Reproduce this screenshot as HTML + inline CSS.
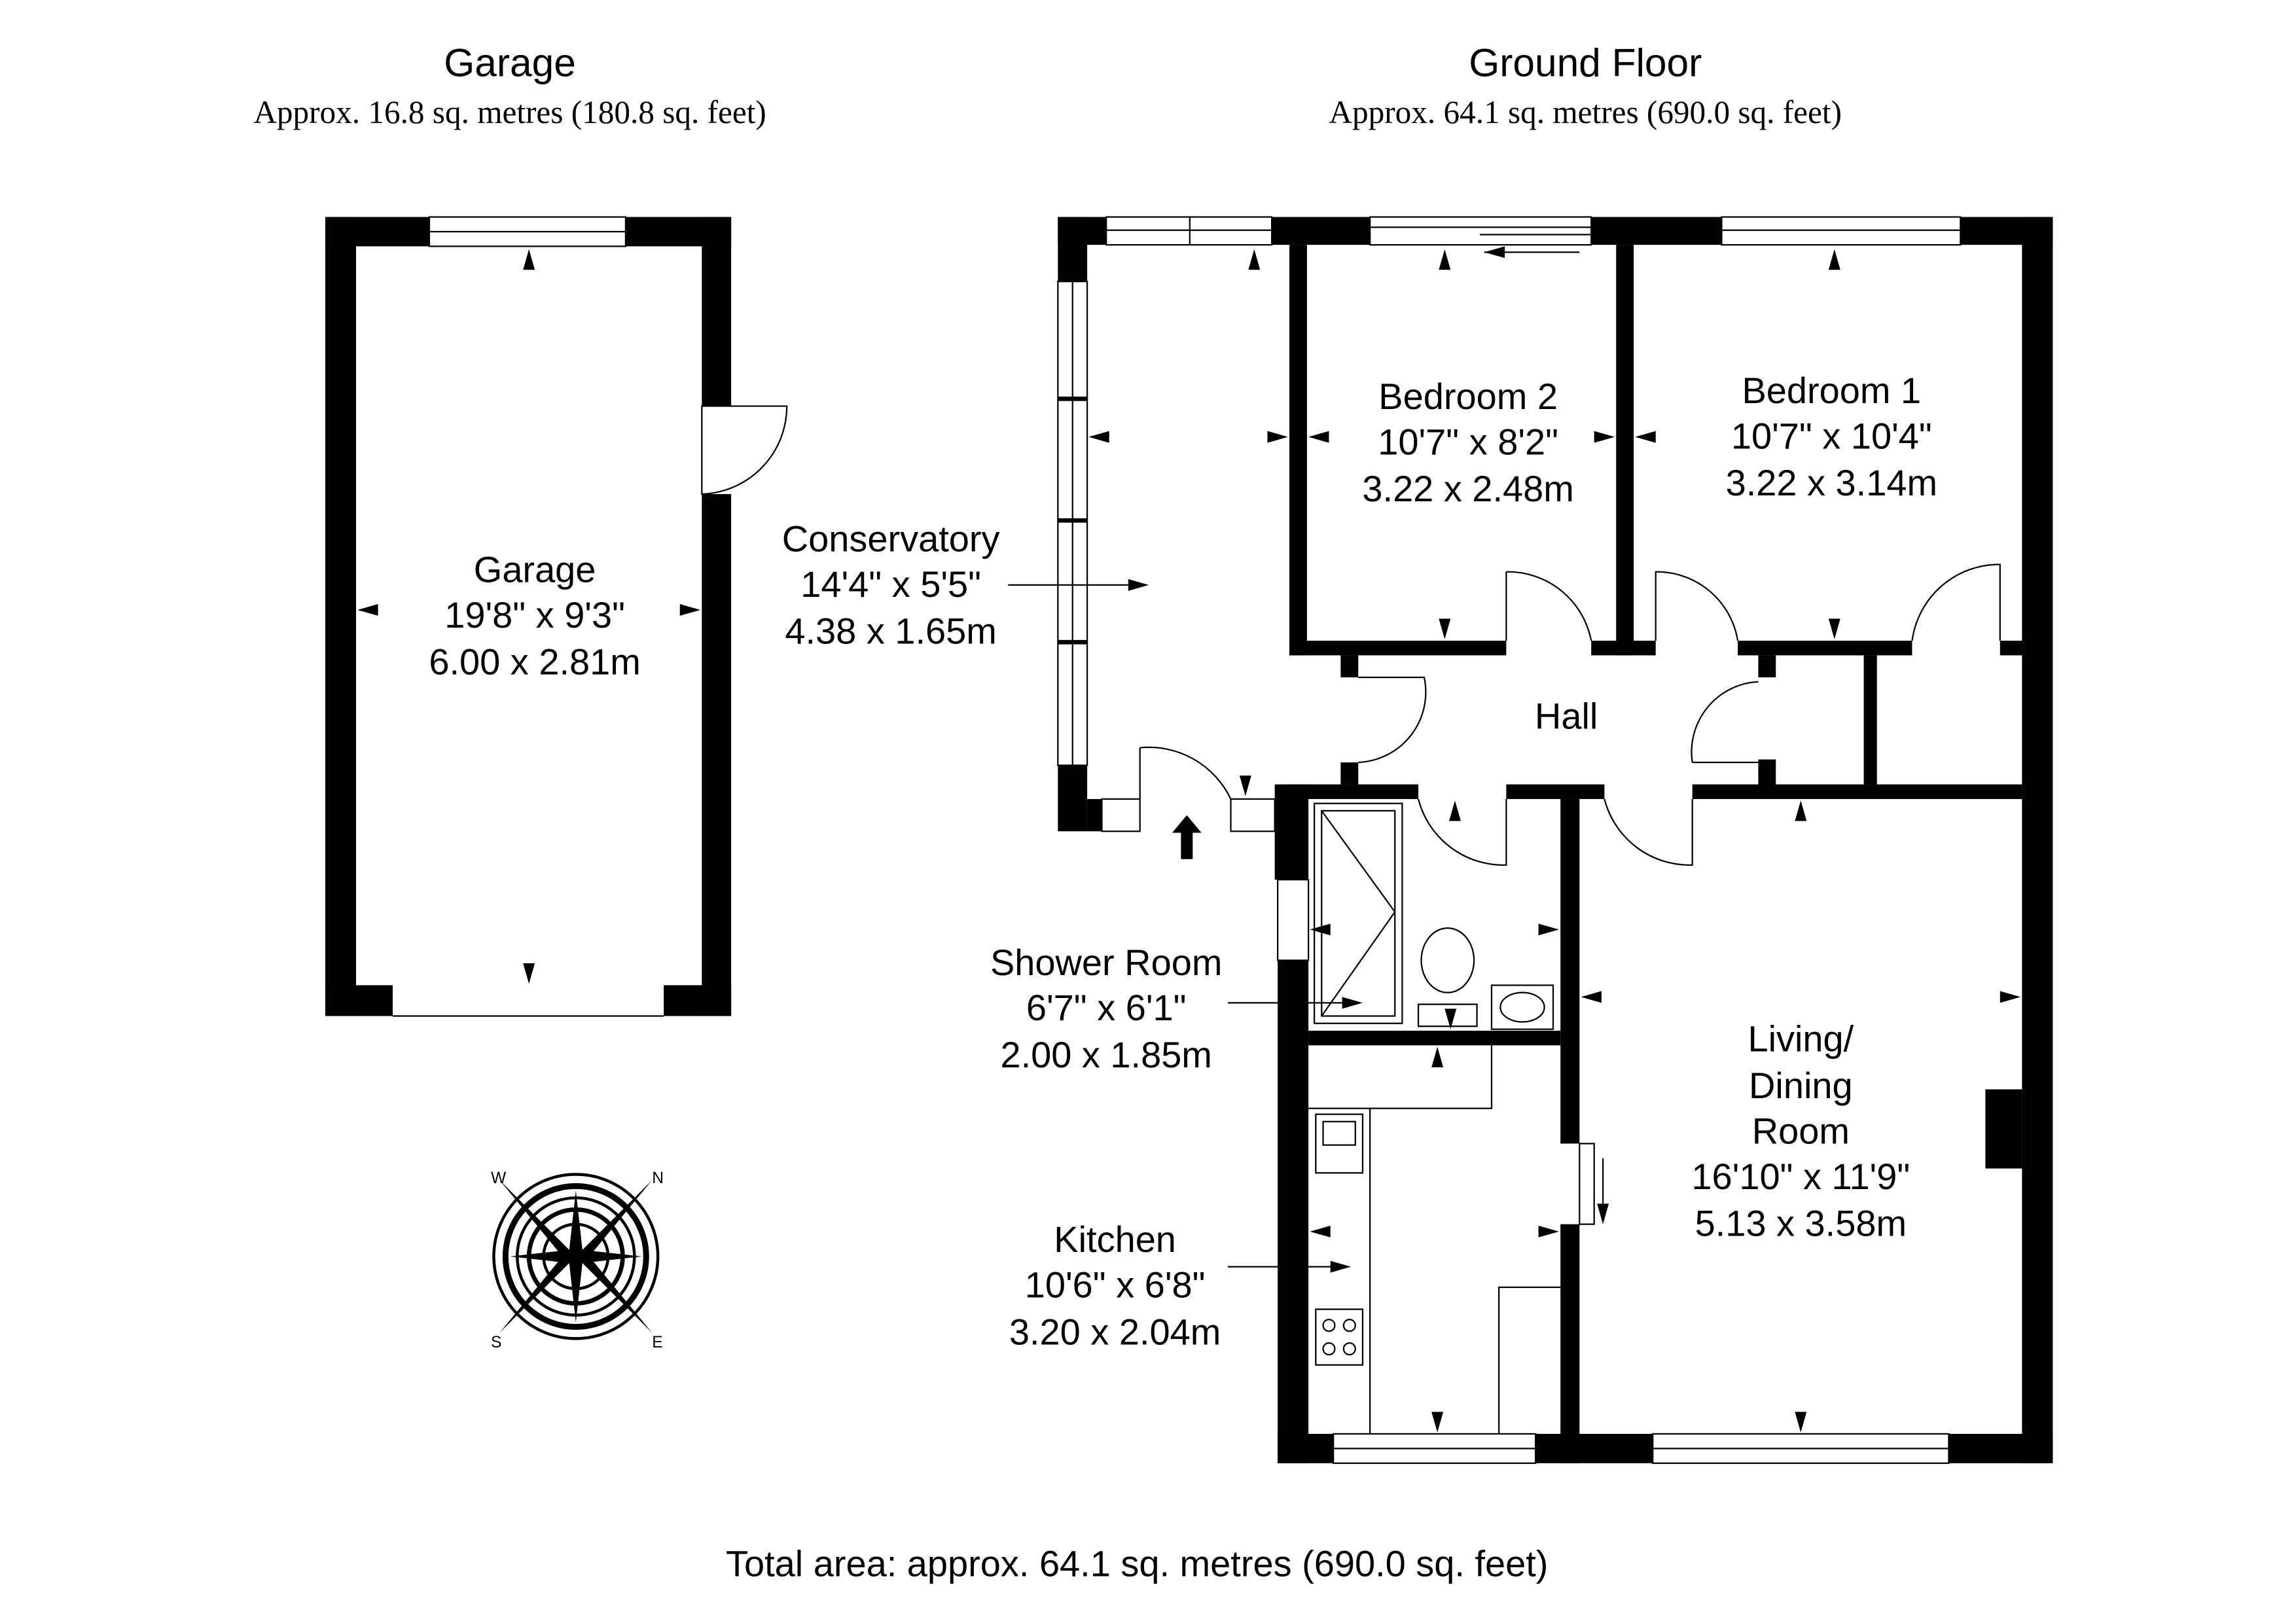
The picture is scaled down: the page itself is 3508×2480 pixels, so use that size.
<!DOCTYPE html>
<html><head><meta charset="utf-8"><style>
html,body{margin:0;padding:0;background:#fff;width:3508px;height:2480px;overflow:hidden}
svg{display:block;overflow:hidden}
text{font-family:"Liberation Sans",sans-serif;fill:#000}
.s{font-family:"Liberation Serif",serif}
</style></head><body>
<svg width="3508" height="2480" viewBox="0 0 1567 1107" preserveAspectRatio="none" xmlns="http://www.w3.org/2000/svg">
<rect width="1567" height="1107" fill="#fff"/>
<text x="348" y="52" font-size="27" text-anchor="middle">Garage</text>
<text x="348" y="84" font-size="22" text-anchor="middle" class="s">Approx. 16.8 sq. metres (180.8 sq. feet)</text>
<text x="1082" y="52" font-size="27" text-anchor="middle">Ground Floor</text>
<text x="1082" y="84" font-size="22" text-anchor="middle" class="s">Approx. 64.1 sq. metres (690.0 sq. feet)</text>
<text x="776" y="1075" font-size="25" text-anchor="middle">Total area: approx. 64.1 sq. metres (690.0 sq. feet)</text>

<g fill="#000">
<rect x="222" y="148" width="71" height="20"/>
<rect x="427" y="148" width="72" height="20"/>
<rect x="222" y="148" width="21" height="545"/>
<rect x="479" y="148" width="20" height="129"/>
<rect x="479" y="337" width="20" height="356"/>
<rect x="222" y="672" width="46" height="21"/>
<rect x="453" y="672" width="46" height="21"/>

<rect x="722" y="148" width="33" height="19"/>
<rect x="868" y="148" width="67" height="19"/>
<rect x="1086" y="148" width="89" height="19"/>
<rect x="1338" y="148" width="63" height="19"/>
<rect x="722" y="148" width="20" height="44"/>
<rect x="722" y="522" width="20" height="45"/>
<rect x="742" y="545" width="10" height="22"/>
<rect x="1380" y="148" width="21" height="850"/>
<rect x="880" y="167" width="12" height="280"/>
<rect x="880" y="437" width="148" height="10"/>
<rect x="1086" y="437" width="44" height="10"/>
<rect x="1103" y="167" width="12" height="280"/>
<rect x="1186" y="437" width="119" height="10"/>
<rect x="1365" y="437" width="15" height="10"/>
<rect x="915" y="447" width="12" height="15"/>
<rect x="1200" y="447" width="12" height="15"/>
<rect x="1200" y="518" width="12" height="20"/>
<rect x="1272" y="447" width="9" height="88"/>
<rect x="880" y="535" width="88" height="10"/>
<rect x="1028" y="535" width="67" height="10"/>
<rect x="1155" y="535" width="225" height="10"/>
<rect x="915" y="520" width="12" height="15"/>
<rect x="870" y="535" width="23" height="65"/>
<rect x="872" y="655" width="21" height="343"/>
<rect x="893" y="703" width="172" height="10"/>
<rect x="1065" y="545" width="13" height="235"/>
<rect x="1065" y="835" width="13" height="163"/>
<rect x="872" y="978" width="38" height="20"/>
<rect x="1048" y="978" width="80" height="20"/>
<rect x="1330" y="978" width="71" height="20"/>
<rect x="1355" y="743" width="25" height="54"/>
</g>

<g fill="none" stroke="#000" stroke-width="1">
<rect x="293" y="148" width="134" height="20"/><line x1="293" y1="158" x2="427" y2="158"/>
<line x1="268" y1="693" x2="453" y2="693"/>
<rect x="755" y="148" width="113" height="19"/><line x1="812" y1="148" x2="812" y2="167"/><line x1="755" y1="157" x2="868" y2="157"/>
<rect x="935" y="148" width="151" height="19"/><line x1="935" y1="155" x2="1086" y2="155"/><line x1="1010" y1="160" x2="1086" y2="160"/>
<rect x="1175" y="148" width="163" height="19"/><line x1="1175" y1="157" x2="1338" y2="157"/>
<rect x="722" y="192" width="20" height="330"/><line x1="732" y1="192" x2="732" y2="522"/>
<line x1="722" y1="272" x2="742" y2="272" stroke-width="3"/><line x1="722" y1="355" x2="742" y2="355" stroke-width="3"/><line x1="722" y1="438" x2="742" y2="438" stroke-width="3"/>
<rect x="752" y="545" width="26" height="22"/><rect x="840" y="545" width="30" height="22"/>
<rect x="872" y="600" width="21" height="55"/>
<rect x="910" y="978" width="138" height="20"/><line x1="910" y1="988" x2="1048" y2="988"/>
<rect x="1128" y="978" width="202" height="20"/><line x1="1128" y1="988" x2="1330" y2="988"/>
<path d="M479 277 L479 337 A60 60 0 0 0 537 277 Z"/>
<path d="M778 510 L778 545 M778 510 A62 62 0 0 1 840 545"/>
<path d="M1028 390 L1028 437 M1028 390 A58 58 0 0 1 1086 437"/>
<path d="M927 520 A48 48 0 0 0 972 462 L927 462"/>
<path d="M1130 437 L1130 390 A56 56 0 0 1 1186 437"/>
<path d="M1365 437 L1365 385 A60 60 0 0 0 1305 437"/>
<path d="M1155 520 L1200 520 M1155 520 A48 48 0 0 1 1200 465"/>
<path d="M1028 545 L1028 590 A60 60 0 0 1 968 545"/>
<path d="M1155 545 L1155 590 A60 60 0 0 1 1095 545"/>
<rect x="897" y="548" width="60" height="150"/><rect x="902" y="553" width="50" height="140"/>
<line x1="902" y1="553" x2="952" y2="622"/><line x1="902" y1="693" x2="952" y2="622"/>
<ellipse cx="988" cy="655" rx="18" ry="22"/><rect x="968" y="685" width="40" height="15"/>
<rect x="1018" y="672" width="42" height="30"/><ellipse cx="1039" cy="687" rx="15" ry="10"/>
<polyline points="893,756 1018,756 1018,713"/>
<polyline points="935,756 935,978"/><polyline points="1023,978 1023,878 1065,878"/>
<rect x="898" y="760" width="32" height="40"/><rect x="903" y="765" width="22" height="16"/>
<rect x="898" y="893" width="32" height="38"/>
<circle cx="907" cy="904" r="4"/><circle cx="921" cy="904" r="4"/><circle cx="907" cy="920" r="4"/><circle cx="921" cy="920" r="4"/>
<rect x="1078" y="780" width="10" height="55"/>
<line x1="688" y1="399" x2="770" y2="399"/>
<line x1="838" y1="684" x2="918" y2="684"/>
<line x1="838" y1="864" x2="910" y2="864"/>
</g>

<g fill="#000">
<path d="M361 170 l-4 14 h8z"/><path d="M361 671 l-4 -14 h8z"/>
<path d="M244 416 l14 -4 v8z"/><path d="M478 416 l-14 -4 v8z"/>
<path d="M856 170 l-4 14 h8z"/><path d="M743 298 l14 -4 v8z"/><path d="M879 298 l-14 -4 v8z"/>
<path d="M784 399 l-14 -4 v8z"/><path d="M850 543 l-4 -14 h8z"/>
<path d="M986 170 l-4 14 h8z"/><path d="M986 436 l-4 -14 h8z"/><path d="M893 298 l14 -4 v8z"/><path d="M1102 298 l-14 -4 v8z"/>
<path d="M1013 172 l14 -4 v8z"/><line x1="1013" y1="172" x2="1078" y2="172" stroke="#000"/>
<path d="M1252 170 l-4 14 h8z"/><path d="M1252 436 l-4 -14 h8z"/><path d="M1116 298 l14 -4 v8z"/>
<path d="M993 546 l-4 14 h8z"/><path d="M990 702 l-4 -14 h8z"/><path d="M894 634 l14 -4 v8z"/><path d="M1064 634 l-14 -4 v8z"/><path d="M930 684 l-14 -4 v8z"/>
<path d="M981 714 l-4 14 h8z"/><path d="M981 977 l-4 -14 h8z"/><path d="M894 840 l14 -4 v8z"/><path d="M1064 840 l-14 -4 v8z"/><path d="M922 864 l-14 -4 v8z"/>
<path d="M1229 546 l-4 14 h8z"/><path d="M1229 977 l-4 -14 h8z"/><path d="M1079 680 l14 -4 v8z"/><path d="M1379 680 l-14 -4 v8z"/>
<path d="M1094 835 l-4 -14 h8z"/><line x1="1094" y1="790" x2="1094" y2="825" stroke="#000"/>
<path d="M810 556 l-10 12 h6 v18 h8 v-18 h6z"/>
</g>

<g font-size="25" text-anchor="middle">
<text x="365" y="397">Garage</text><text x="365" y="428">19'8" x 9'3"</text><text x="365" y="460">6.00 x 2.81m</text>
<text x="608" y="376">Conservatory</text><text x="608" y="407">14'4" x 5'5"</text><text x="608" y="439">4.38 x 1.65m</text>
<text x="1002" y="279">Bedroom 2</text><text x="1002" y="310">10'7" x 8'2"</text><text x="1002" y="342">3.22 x 2.48m</text>
<text x="1250" y="275">Bedroom 1</text><text x="1250" y="306">10'7" x 10'4"</text><text x="1250" y="338">3.22 x 3.14m</text>
<text x="1069" y="497">Hall</text>
<text x="755" y="665">Shower Room</text><text x="755" y="696">6'7" x 6'1"</text><text x="755" y="728">2.00 x 1.85m</text>
<text x="761" y="854">Kitchen</text><text x="761" y="885">10'6" x 6'8"</text><text x="761" y="917">3.20 x 2.04m</text>
<text x="1229" y="717">Living/</text><text x="1229" y="749">Dining</text><text x="1229" y="780">Room</text><text x="1229" y="811">16'10" x 11'9"</text><text x="1229" y="843">5.13 x 3.58m</text>
</g>

<g transform="translate(393,857)" stroke="#000" fill="none">
<circle r="56" stroke-width="2"/><circle r="48" stroke-width="4"/><circle r="40" stroke-width="2"/><circle r="32" stroke-width="3"/><circle r="22" stroke-width="2"/>
<g fill="#000" stroke="none">
<path d="M52 -52 L5 -5 L-5 5 L-52 52 L-5 -5 L5 5Z"/>
<path d="M-52 -52 L-5 5 L5 -5 L52 52 L5 5 L-5 -5Z"/>
<path d="M0 -45 L5 0 L0 45 L-5 0Z"/><path d="M-45 0 L0 5 L45 0 L0 -5Z"/>
</g>
<g fill="#000" stroke="none">
<text x="52" y="-50" font-size="11">N</text><text x="-58" y="-50" font-size="11">W</text><text x="-58" y="62" font-size="11">S</text><text x="52" y="62" font-size="11">E</text>
</g>
</g>
</svg>
</body></html>
